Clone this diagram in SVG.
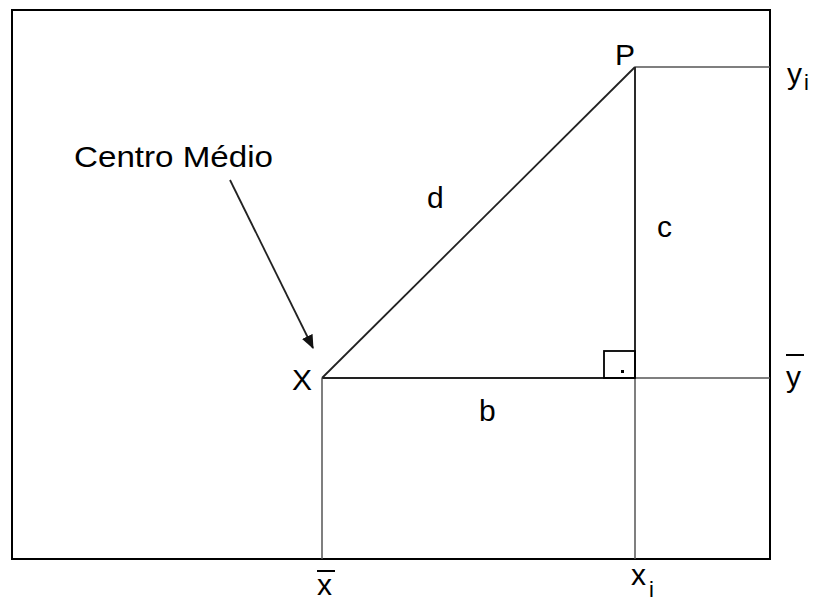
<svg xmlns="http://www.w3.org/2000/svg" width="815" height="601" viewBox="0 0 815 601">
<style>
.t{font-family:"Liberation Sans",Arial,sans-serif;font-size:30px;fill:#000}
.s{font-family:"Liberation Sans",Arial,sans-serif;font-size:22px;fill:#000}
.ln{stroke:#555;stroke-width:1.5;fill:none}
.dk{stroke:#222;stroke-width:1.8;fill:none}
</style>
<defs>
<marker id="ah2" viewBox="0 0 12 10" refX="11" refY="5" markerWidth="14" markerHeight="12" orient="auto" markerUnits="userSpaceOnUse">
<path d="M0,0 L12,5 L0,10 z" fill="#111"/>
</marker>
</defs>
<rect x="0" y="0" width="815" height="601" fill="#fff"/>
<rect id="frame" x="12" y="10" width="758" height="549" fill="none" stroke="#000" stroke-width="2"/>
<g id="connectors">
<line class="ln" x1="635" y1="67" x2="770" y2="67"/>
<line class="ln" x1="635" y1="67" x2="635" y2="559"/>
<line class="ln" x1="322" y1="378" x2="770" y2="378"/>
<line class="dk" x1="322" y1="378" x2="635" y2="378"/>
<line class="dk" x1="635" y1="67" x2="635" y2="378"/>
<line class="ln" x1="322" y1="378" x2="322" y2="559"/>
<line class="dk" x1="322" y1="378" x2="635" y2="67"/>
<rect x="604" y="351" width="31" height="27" fill="none" stroke="#000" stroke-width="1.8"/>
<rect x="621" y="370" width="3" height="3" fill="#000"/>
<line x1="230" y1="180" x2="313" y2="348" stroke="#222" stroke-width="1.8" marker-end="url(#ah2)"/>
</g>
<g id="label-centro"><text class="t" x="74" y="167" textLength="199" lengthAdjust="spacingAndGlyphs">Centro Médio</text></g>
<g id="node-P"><text class="t" x="615" y="65">P</text></g>
<g id="node-X"><text class="t" x="292" y="390">X</text></g>
<g id="label-d"><text class="t" x="427" y="208">d</text></g>
<g id="label-c"><text class="t" x="657" y="237">c</text></g>
<g id="label-b"><text class="t" x="479" y="421">b</text></g>
<g id="label-yi"><text class="t" x="787" y="84">y</text><text class="s" x="804" y="90">i</text></g>
<g id="label-ybar"><text class="t" x="786" y="387">y</text><line x1="786" y1="355" x2="804" y2="355" stroke="#000" stroke-width="2"/></g>
<g id="label-xbar"><text class="t" x="317" y="595">x</text><line x1="317" y1="571" x2="335" y2="571" stroke="#000" stroke-width="2"/></g>
<g id="label-xi"><text class="t" x="631" y="585">x</text><text class="s" x="649" y="597">i</text></g>
</svg>
